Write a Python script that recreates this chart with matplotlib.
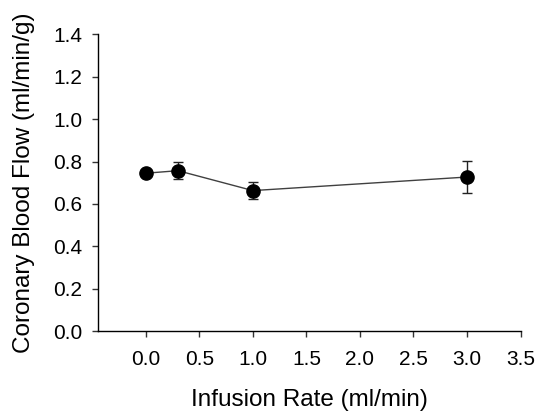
import matplotlib

matplotlib.use("Agg")
import matplotlib.pyplot as plt

# --- data --------------------------------------------------------------------
infusion_rate = [0.0, 0.3, 1.0, 3.0]          # ml/min
blood_flow = [0.745, 0.757, 0.663, 0.727]     # ml/min/g
blood_flow_err = [0.012, 0.040, 0.042, 0.076]

x_ticks = [0.0, 0.5, 1.0, 1.5, 2.0, 2.5, 3.0, 3.5]
y_ticks = [0.0, 0.2, 0.4, 0.6, 0.8, 1.0, 1.2, 1.4]
# ------------------------------------------------------------------------------

plt.rcParams["font.family"] = ["Liberation Sans", "DejaVu Sans"]

fig = plt.figure(figsize=(5.35, 4.13), dpi=100)
ax = fig.add_axes([0.1825, 0.1985, 0.973 - 0.1825, 0.9165 - 0.1985])

ax.plot(infusion_rate, blood_flow, color="#404040", lw=1.0, zorder=2)
ax.errorbar(infusion_rate, blood_flow, yerr=blood_flow_err, fmt="none",
            ecolor="#222222", elinewidth=1.0, capsize=3.3, capthick=1.0,
            zorder=3)
ax.plot(infusion_rate, blood_flow, "o", color="black", ms=9.5, zorder=4)

ax.set_xlim(-0.45, 3.5)
ax.set_ylim(0, 1.4)
ax.set_xticks(x_ticks)
ax.set_yticks(y_ticks)
ax.set_xticklabels([f"{t:.1f}" for t in x_ticks])
ax.set_yticklabels([f"{t:.1f}" for t in y_ticks])

for s in ("top", "right"):
    ax.spines[s].set_visible(False)
for s in ("left", "bottom"):
    ax.spines[s].set_linewidth(1.0)
    ax.spines[s].set_color("black")

ax.tick_params(axis="both", direction="out", length=4, width=1.0,
               color="#333333", labelsize=15)
ax.tick_params(axis="x", pad=10)
ax.tick_params(axis="y", pad=7)

ax.set_xlabel("Infusion Rate (ml/min)", fontsize=17.5)
ax.set_ylabel("Coronary Blood Flow (ml/min/g)", fontsize=17.5)
ax.xaxis.set_label_coords(0.5, -0.197)
ax.yaxis.set_label_coords(-0.148, 0.5)

fig.savefig("out.png", dpi=100)
